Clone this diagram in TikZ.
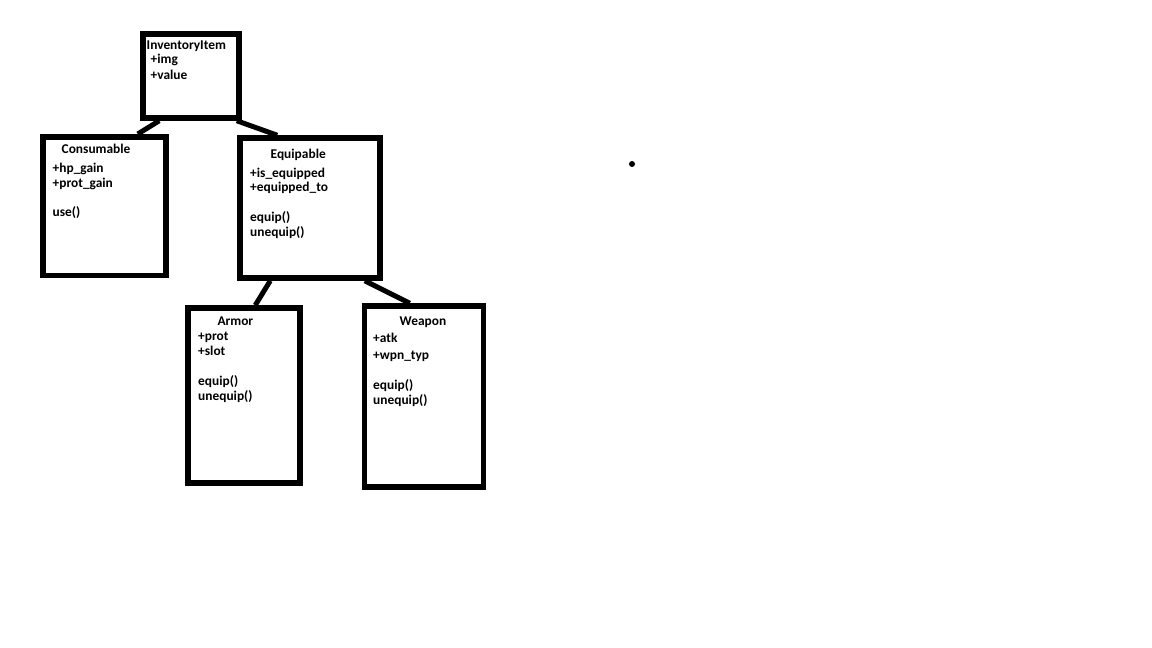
\documentclass[tikz,border=0pt]{standalone}
\usepackage{fontspec}
\setmainfont{Carlito}
\begin{document}
\begin{tikzpicture}[x=1pt,y=-1pt,
  box/.style={draw, line width=5.5pt, inner sep=0pt},
  link/.style={line width=5pt},
  txt/.style={anchor=base west, inner sep=0pt, font=\fontsize{13.4}{15}\selectfont\bfseries}]
  \useasboundingbox[fill=white] (0,0) rectangle (1152,648);

  % class boxes
  \node[box, minimum width=96pt,  minimum height=84pt]    (inv)    at (191,76)    {};
  \node[box, minimum width=123pt, minimum height=138.5pt] (cons)   at (104.5,206) {};
  \node[box, minimum width=140pt, minimum height=140pt]   (equ)    at (310,208)   {};
  \node[box, minimum width=112pt, minimum height=175pt]   (armor)  at (244,395.5) {};
  \node[box, minimum width=119pt, minimum height=181pt]   (weapon) at (424,396.5) {};

  % inheritance links
  \draw[link] ([xshift=19pt]inv.south west) -- ([xshift=-31pt]cons.north east);
  \draw[link] ([xshift=-5pt]inv.south east) -- ([xshift=40pt]equ.north west);
  \draw[link] ([xshift=33pt]equ.south west) -- ([xshift=70pt]armor.north west);
  \draw[link] ([xshift=-18pt]equ.south east) -- ([xshift=48pt]weapon.north west);

  % InventoryItem
  \node[txt] (invT)  at (146.5,49.3) {InventoryItem};
  \node[txt] (invA1) at (150.5,63.3) {+img};
  \node[txt] (invA2) at (150.5,79)   {+value};

  % Consumable
  \node[txt] (consT)  at (61.5,153)  {Consumable};
  \node[txt] (consA1) at (52.5,172)  {+hp\_gain};
  \node[txt] (consA2) at (52.5,187)  {+prot\_gain};
  \node[txt] (consM1) at (52.5,216)  {use()};

  % Equipable
  \node[txt] (equT)  at (270.5,158.3) {Equipable};
  \node[txt] (equA1) at (250,177.7)   {+is\_equipped};
  \node[txt] (equA2) at (250,191.7)   {+equipped\_to};
  \node[txt] (equM1) at (250,221.7)   {equip()};
  \node[txt] (equM2) at (250,236.7)   {unequip()};

  % Armor
  \node[txt] (armT)  at (217.3,325)   {Armor};
  \node[txt] (armA1) at (198,340.7)   {+prot};
  \node[txt] (armA2) at (198,355)     {+slot};
  \node[txt] (armM1) at (198,385.7)   {equip()};
  \node[txt] (armM2) at (198,400)     {unequip()};

  % Weapon
  \node[txt] (wpnT)  at (399.5,325)   {Weapon};
  \node[txt] (wpnA1) at (373,342.7)   {+atk};
  \node[txt] (wpnA2) at (373,359)     {+wpn\_typ};
  \node[txt] (wpnM1) at (373,389)     {equip()};
  \node[txt] (wpnM2) at (373,404)     {unequip()};

  % stray dot
  \node[circle, fill, inner sep=0pt, minimum size=6pt] (dot) at (632,164) {};
\end{tikzpicture}
\end{document}
